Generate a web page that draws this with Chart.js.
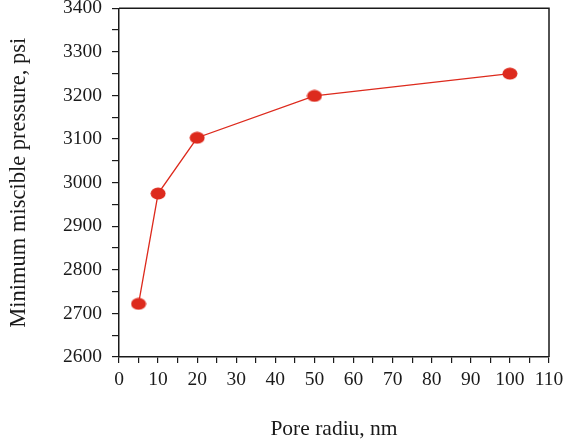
<!DOCTYPE html>
<html>
<head>
<meta charset="utf-8">
<script src="https://cdn.jsdelivr.net/npm/chart.js@4/dist/chart.umd.min.js"></script>
<style>
  html, body { margin: 0; padding: 0; background: #fff; }
  #wrap { width: 565px; height: 442px; }
</style>
</head>
<body>
<div id="wrap"><canvas id="mmpChart" width="565" height="442"></canvas></div>
<script>
// ── data ──
const poreRadius = [5, 10, 20, 50, 100];
const minPressure = [2722, 2975, 3103, 3199, 3250];
const xTicks = [0, 10, 20, 30, 40, 50, 60, 70, 80, 90, 100, 110];
const yTicks = [2600, 2700, 2800, 2900, 3000, 3100, 3200, 3300, 3400];

const RED = "#dd2a1d";
const INK = "#1a1a1a";
const FONT = "'Liberation Serif', 'DejaVu Serif', serif";

// elliptical marker (slightly wider than tall, as in the figure)
function ellipseMarker(w, h, color) {
  const c = document.createElement("canvas");
  c.width = w; c.height = h;
  const g = c.getContext("2d");
  g.fillStyle = color;
  g.beginPath();
  g.ellipse(w / 2, h / 2, w / 2 - 0.5, h / 2 - 0.5, 0, 0, Math.PI * 2);
  g.fill();
  return c;
}

// top + right frame lines
const frame = {
  id: "frame",
  afterDraw(chart) {
    const { ctx, chartArea: a } = chart;
    ctx.save();
    ctx.strokeStyle = INK;
    ctx.lineWidth = 1.5;
    ctx.beginPath();
    ctx.moveTo(a.left, a.top);
    ctx.lineTo(a.right, a.top);
    ctx.lineTo(a.right, a.bottom);
    ctx.stroke();
    ctx.restore();
  },
};

new Chart(document.getElementById("mmpChart"), {
  type: "line",
  data: {
    datasets: [
      {
        data: poreRadius.map((x, i) => ({ x, y: minPressure[i] })),
        borderColor: RED,
        borderWidth: 1.3,
        pointStyle: ellipseMarker(16, 13, RED),
        pointRadius: 7,
        tension: 0,
        fill: false,
      },
    ],
  },
  options: {
    responsive: false,
    animation: false,
    layout: { padding: { left: 6, right: 16, top: 8, bottom: 0 } },
    plugins: { legend: { display: false }, tooltip: { enabled: false } },
    scales: {
      x: {
        type: "linear",
        min: 0,
        max: 110,
        border: { display: true, color: INK, width: 1.5 },
        grid: { drawOnChartArea: false, color: INK, tickLength: 6, lineWidth: 1.2 },
        ticks: {
          stepSize: 5,
          autoSkip: false,
          maxRotation: 0,
          padding: 5,
          color: INK,
          font: { family: FONT, size: 19.5 },
          callback: (v) => (xTicks.includes(v) ? String(v) : ""),
        },
        title: {
          display: true,
          text: "Pore radiu, nm",
          color: INK,
          font: { family: FONT, size: 21.5 },
          padding: { top: 20, bottom: 0 },
        },
        afterFit: (s) => {
          s.height = 85;
          s.paddingLeft = 0;
          s.paddingRight = 0;
        },
      },
      y: {
        type: "linear",
        min: 2600,
        max: 3400,
        border: { display: true, color: INK, width: 1.5 },
        grid: { drawOnChartArea: false, color: INK, tickLength: 7, lineWidth: 1.2 },
        ticks: {
          stepSize: 50,
          autoSkip: false,
          padding: 10,
          color: INK,
          font: { family: FONT, size: 19.5 },
          callback: (v) => (yTicks.includes(v) ? String(v) : ""),
        },
        title: {
          display: true,
          text: "Minimum miscible pressure, psi",
          color: INK,
          font: { family: FONT, size: 22.5 },
          padding: { top: 0, bottom: 4 },
        },
        afterFit: (s) => {
          s.width = 113;
          s.paddingTop = 0;
          s.paddingBottom = 0;
        },
      },
    },
  },
  plugins: [frame],
});
</script>
</body>
</html>
